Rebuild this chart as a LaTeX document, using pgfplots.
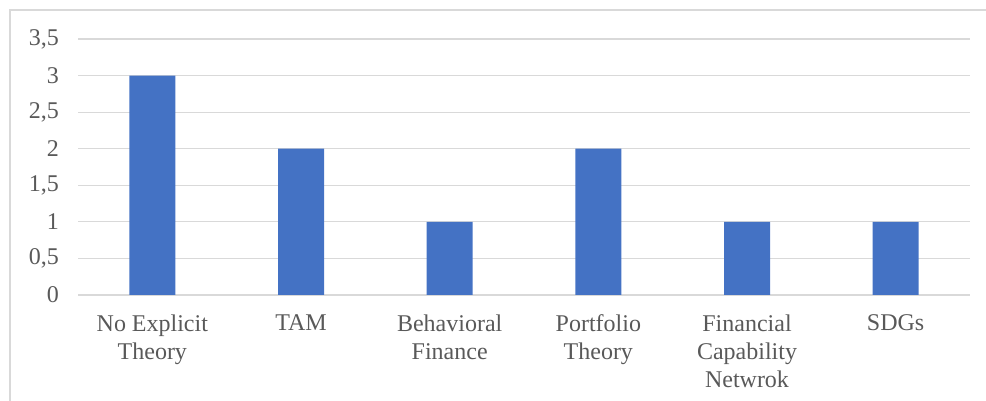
\documentclass[border=0pt]{standalone}
\usepackage{pgfplots}
\pgfplotsset{compat=1.18}
\usepackage{fontspec}
\setmainfont{Liberation Serif}
\definecolor{barblue}{HTML}{4472C4}
\definecolor{gridgray}{HTML}{D9D9D9}
\definecolor{textgray}{HTML}{595959}
\begin{document}
\begin{tikzpicture}
\useasboundingbox (0,0) rectangle (493pt,200.5pt);
\draw[gridgray, line width=0.8pt] (5pt,-10pt) -- (5pt,195.5pt) -- (510pt,195.5pt);
\begin{axis}[
  at={(39pt,53pt)}, anchor=south west,
  width=446pt, height=128pt, scale only axis,
  xmin=-0.5, xmax=5.5, ymin=0, ymax=3.5,
  ytick={0,0.5,1,1.5,2,2.5,3,3.5},
  /pgf/number format/use comma,
  /pgf/number format/assume math mode=true,
  xtick=data,
  xticklabels={No Explicit\\Theory, TAM, Behavioral\\Finance, Portfolio\\Theory, Financial\\Capability\\Netwrok, SDGs},
  xticklabel style={align=center, font=\fontsize{12}{14}\selectfont, text=textgray, yshift=-6.5pt},
  yticklabel style={font=\fontsize{12}{14}\selectfont, text=textgray, xshift=-6pt},
  major tick length=0pt,
  axis line style={draw=none},
  axis x line*=bottom, axis y line*=left,
  ymajorgrids, grid style={gridgray, line width=0.6pt},
  extra y ticks={0}, extra y tick labels={},
  extra y tick style={grid style={gridgray, line width=0.8pt}},
  ybar, bar width=23pt,
  clip=false,
]
\addplot[fill=barblue, draw=none] coordinates {(0,3) (1,2) (2,1) (3,2) (4,1) (5,1)};
\end{axis}
\end{tikzpicture}
\end{document}
